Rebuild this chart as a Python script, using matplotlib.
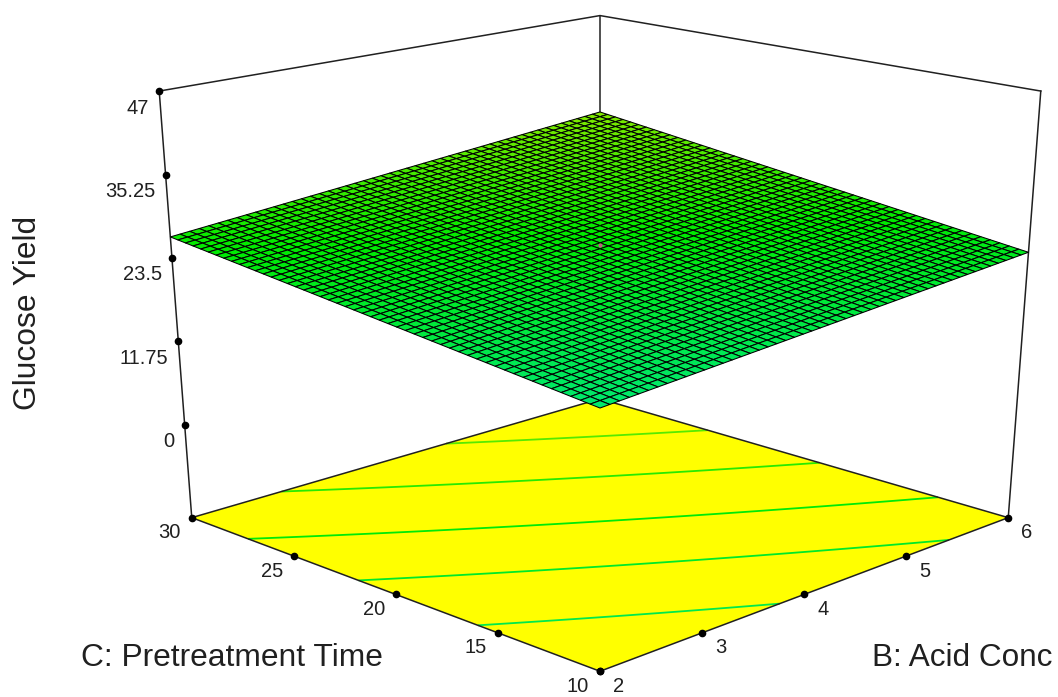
import numpy as np
import matplotlib
matplotlib.use('Agg')
import matplotlib.pyplot as plt
from matplotlib.colors import LinearSegmentedColormap
from matplotlib.lines import Line2D
from mpl_toolkits.mplot3d import proj3d

plt.rcParams['font.family'] = ['Liberation Sans', 'DejaVu Sans']

# Data
b_ticks = [2, 3, 4, 5, 6]
c_ticks = [10, 15, 20, 25, 30]
z_ticks = [0, 11.75, 23.5, 35.25, 47]
z_tick_labels = ['0', '11.75', '23.5', '35.25', '47']
z_floor = -14.1
z_top = 47
# Glucose yield at the four corners of the factor space, rows = B, columns = C
b_corners = [2, 6]
c_corners = [10, 30]
yield_corners = [[20.7, 27.15], [25.0, 32.4]]
contour_levels = [22.45, 24.3, 26.15, 28.2, 30.27]
centre_point = (4, 20, 26.0)

fig = plt.figure(figsize=(10.58, 6.97), dpi=100)
ax = fig.add_axes([73.8 / 1058, 1.9 / 697, 1024.7 / 1058, 745 / 697], projection='3d')
ax.apply_aspect = lambda position=None: None  # the picture is squeezed vertically
ax.set_proj_type('persp', focal_length=0.538)
ax.view_init(elev=21.3, azim=-135)
ax.set_box_aspect((1, 1, 1.049))
ax.set_xlim(b_ticks[0], b_ticks[-1], view_margin=0)
ax.set_ylim(c_ticks[0], c_ticks[-1], view_margin=0)
ax.set_zlim(z_floor, z_top, view_margin=0)
ax.set_axis_off()
ax.computed_zorder = False

# response mesh
n = 51
u, v = np.meshgrid(np.linspace(0, 1, n), np.linspace(0, 1, n), indexing='ij')
X = b_corners[0] + u * (b_corners[1] - b_corners[0])
Y = c_corners[0] + v * (c_corners[1] - c_corners[0])
h = np.array(yield_corners)
Z = (h[0, 0] * (1 - u) * (1 - v) + h[0, 1] * (1 - u) * v
     + h[1, 0] * u * (1 - v) + h[1, 1] * u * v)

greens = LinearSegmentedColormap.from_list('gy', ['#00e870', '#00ea00', '#88ea00'])
norm = plt.Normalize(20.5, 32.5)

# floor with the contours
fx, fy = np.meshgrid(b_corners, c_corners, indexing='ij')
ax.plot_surface(fx, fy, np.full(fx.shape, z_floor), color='#ffff00', shade=False,
                linewidth=0, zorder=1)
ax.contour(X, Y, Z, levels=contour_levels, zdir='z', offset=z_floor,
           cmap=greens, norm=norm, linewidths=1.3, zorder=2)

# box edges
b0, b1 = b_ticks[0], b_ticks[-1]
c0, c1 = c_ticks[0], c_ticks[-1]
edge = dict(color='#202020', lw=1.1, zorder=3)
ax.plot([b0, b0, b1, b1, b0], [c0, c1, c1, c0, c0], [z_floor] * 5, **edge)
ax.plot([b0, b1, b1], [c1, c1, c0], [z_top] * 3, **edge)
ax.plot([b0, b0], [c1, c1], [z_floor, z_top], **edge)
ax.plot([b1, b1], [c1, c1], [z_floor, z_top], **edge)
ax.plot([b1, b1], [c0, c0], [z_floor, z_top], **edge)

ax.plot_surface(X, Y, Z, facecolors=greens(norm(Z)), edgecolor='black', linewidth=0.75,
                rstride=1, cstride=1, shade=False, antialiased=True, zorder=4)
ax.plot(*[[p] for p in centre_point], 'o', color='#c06080', ms=2, zorder=5)

M = ax.get_proj()


def ticks_on(start, end, values, labels, dx, dy, ha):
    # the ticks are evenly spaced on the screen along each edge
    x0, y0, _ = proj3d.proj_transform(*start, M)
    x1, y1, _ = proj3d.proj_transform(*end, M)
    for val, s in zip(values, labels):
        t = (val - values[0]) / (values[-1] - values[0])
        px, py = x0 + (x1 - x0) * t, y0 + (y1 - y0) * t
        ax.add_line(Line2D([px], [py], marker='o', color='black', ms=4.5, ls='none', zorder=6))
        ax.annotate(s, (px, py), xytext=(dx, dy), textcoords='offset pixels', ha=ha,
                    va='center', fontsize=14.5, color='#202020', annotation_clip=False,
                    zorder=7)


ticks_on((b0, c1, 0), (b0, c1, z_top), z_ticks, z_tick_labels, -10, -17, 'right')
ticks_on((b0, c0, z_floor), (b0, c1, z_floor), c_ticks, [str(c) for c in c_ticks], -11, -15, 'right')
ticks_on((b0, c0, z_floor), (b1, c0, z_floor), b_ticks, [str(b) for b in b_ticks], 13, -15, 'left')

fig.text(28 / 1058, 1 - 313 / 697, 'Glucose Yield', rotation=90, fontsize=22.9,
         ha='center', va='center', color='#202020')
fig.text(232 / 1058, 1 - 658 / 697, 'C: Pretreatment Time', fontsize=22.9,
         ha='center', va='center', color='#202020')
fig.text(962 / 1058, 1 - 658 / 697, 'B: Acid Conc', fontsize=22.7,
         ha='center', va='center', color='#202020')

fig.savefig('out.png', dpi=100)
